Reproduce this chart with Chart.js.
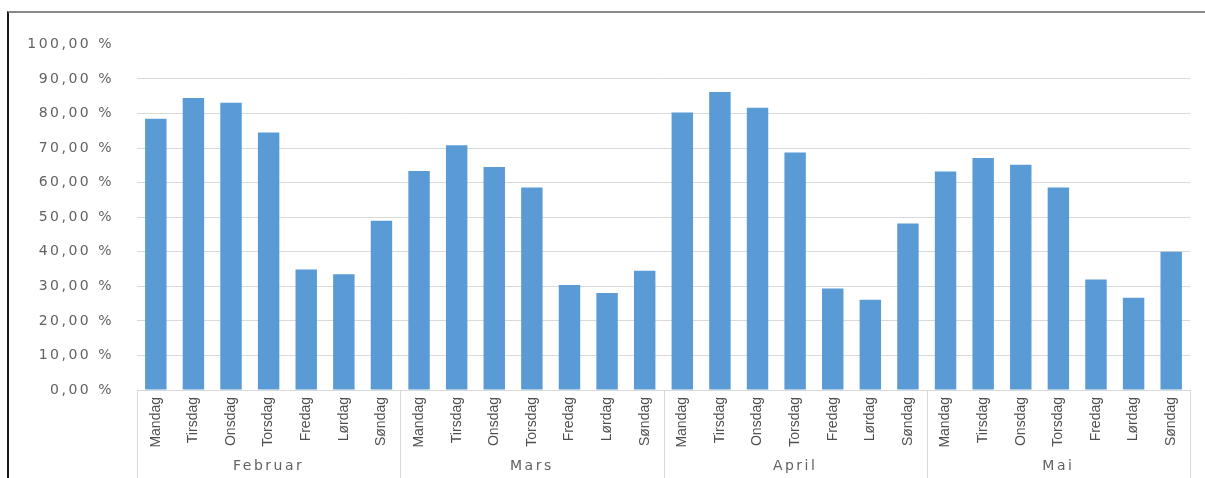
<!DOCTYPE html>
<html>
<head>
<meta charset="utf-8">
<script src="https://cdn.jsdelivr.net/npm/chart.js@4/dist/chart.umd.min.js"></script>
<style>
  html, body { margin: 0; padding: 0; background: #fff; }
  #frame {
    position: absolute; left: 7px; top: 11px; width: 1198px; height: 467px;
    box-sizing: border-box;
    border-left: 2px solid #1a1a1a;
    border-top: 2px solid #8a8a8a;
  }
  #box { position: relative; width: 1196px; height: 465px; }
</style>
</head>
<body>
<div id="frame"><div id="box"><canvas id="chart"></canvas></div></div>
<script>
const months = ['Februar', 'Mars', 'April', 'Mai'];
const weekdays = ['Mandag', 'Tirsdag', 'Onsdag', 'Torsdag', 'Fredag', 'Lørdag', 'Søndag'];

// andel per ukedag, prosent
const februar = [78.5, 84.5, 83.1, 74.5, 34.9, 33.5, 49.0];
const mars    = [63.4, 70.8, 64.5, 58.6, 30.4, 28.1, 34.5];
const april   = [80.3, 86.2, 81.7, 68.7, 29.4, 26.1, 48.2];
const mai     = [63.2, 67.1, 65.2, 58.6, 32.0, 26.7, 40.0];

const yTicks = [0, 10, 20, 30, 40, 50, 60, 70, 80, 90, 100];

const labels = [];
months.forEach(function(){ weekdays.forEach(function(d){ labels.push(d); }); });
const values = [].concat(februar, mars, april, mai);

const gray = '#626262';
const lineGray = '#d9d9d9';

// bokstavavstand for y-akse og månedsnavn, ikke ukedagene
const spacingPlugin = {
  id: 'spacing',
  beforeDraw(chart) { chart.ctx.letterSpacing = '2.5px'; },
  afterDatasetsDraw(chart) { chart.ctx.letterSpacing = '0px'; },
  afterDraw(chart) {
    const ctx = chart.ctx, area = chart.chartArea, x = chart.scales.x;
    const n = weekdays.length;
    const edges = [area.left];
    for (let m = 1; m < months.length; m++) {
      edges.push((x.getPixelForValue(m * n - 1) + x.getPixelForValue(m * n)) / 2);
    }
    edges.push(area.right);
    ctx.save();
    ctx.strokeStyle = lineGray;
    ctx.lineWidth = 1;
    edges.forEach(function(px){
      const xx = Math.round(px) + 0.5;
      ctx.beginPath();
      ctx.moveTo(xx, area.bottom);
      ctx.lineTo(xx, chart.height);
      ctx.stroke();
    });
    ctx.restore();
  }
};

const config = {
  type: 'bar',
  data: {
    labels: labels,
    datasets: [{
      data: values,
      backgroundColor: '#5b9bd5',
      borderWidth: 0,
      barPercentage: 0.57,
      categoryPercentage: 1
    }]
  },
  options: {
    responsive: true,
    maintainAspectRatio: false,
    animation: false,
    layout: { padding: { top: 16, right: 15, left: 0, bottom: 0 } },
    plugins: { legend: { display: false }, tooltip: { enabled: false } },
    scales: {
      y: {
        min: 0, max: 100,
        afterBuildTicks: function(scale){ scale.ticks = yTicks.map(function(v){ return { value: v }; }); },
        afterFit: function(scale){ scale.width = 128; },
        grid: {
          drawTicks: false,
          color: function(c){ return c.tick && c.tick.value === 100 ? 'rgba(0,0,0,0)' : lineGray; }
        },
        border: { display: false },
        ticks: {
          padding: 23,
          color: gray,
          font: { family: 'DejaVu Sans', size: 14 },
          callback: function(v){ return v.toFixed(2).replace('.', ',') + ' %'; }
        }
      },
      x: {
        offset: true,
        afterFit: function(scale){ scale.height = 64; },
        grid: { display: false, drawTicks: false },
        border: { display: true, color: lineGray, width: 1 },
        ticks: {
          z: 1,
          autoSkip: false,
          minRotation: 90, maxRotation: 90,
          padding: 7,
          color: '#505050',
          font: { family: "'Liberation Sans', Arial, sans-serif", size: 14 }
        }
      },
      x2: {
        type: 'category',
        labels: months,
        position: 'bottom',
        offset: true,
        afterFit: function(scale){ scale.height = 24; },
        grid: { display: false, drawTicks: false },
        border: { display: false },
        ticks: {
          padding: 4,
          color: gray,
          font: { family: 'DejaVu Sans', size: 14 }
        }
      }
    }
  },
  plugins: [spacingPlugin]
};

const chart = new Chart(document.getElementById('chart'), config);
</script>
</body>
</html>
